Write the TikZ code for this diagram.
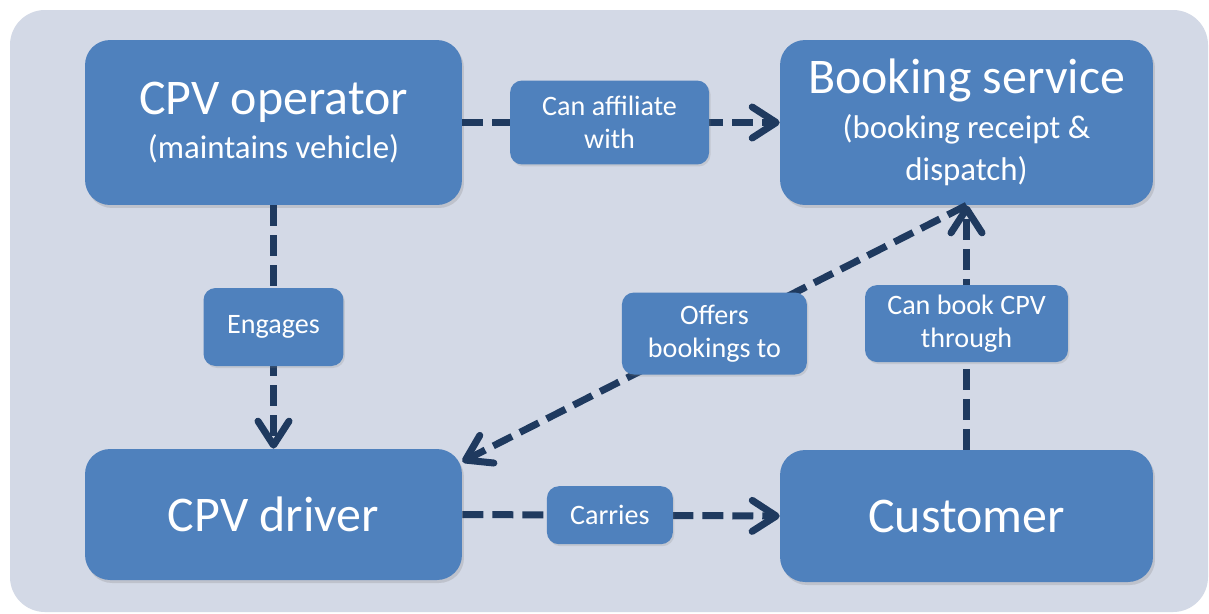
\documentclass[tikz,border=0pt]{standalone}
\usepackage{fontspec}
\setmainfont{Carlito}
\usepackage{xcolor}
\usetikzlibrary{arrows.meta,shadows}
\definecolor{boxblue}{HTML}{4F81BD}
\definecolor{panel}{HTML}{D3D9E6}
\definecolor{linkblue}{HTML}{1F3A5F}
\newcommand{\subfnt}{\fontsize{18.7}{22}\selectfont}

\begin{document}
\begin{tikzpicture}[x=0.02cm,y=-0.02cm,
  actor/.style={rectangle,rounded corners=0.5cm,fill=boxblue,text=white,align=center,
    font=\fontsize{28.4}{24.4}\selectfont,
    drop shadow={opacity=0.25,shadow xshift=0.04cm,shadow yshift=-0.06cm}},
  tag/.style={rectangle,rounded corners=0.24cm,fill=boxblue,text=white,align=center,inner sep=0pt,
    font=\fontsize{16}{18.7}\selectfont,
    drop shadow={opacity=0.2,shadow xshift=0.03cm,shadow yshift=-0.04cm}},
  link/.style={draw=linkblue,line width=0.14cm,dash pattern=on 0.42cm off 0.18cm,
    -{Straight Barb[length=0.48cm,width=0.62cm,round]}}]
\useasboundingbox (0,0) rectangle (1209,613);
\fill[white] (0,0) rectangle (1209,613);
\fill[panel,rounded corners=0.7cm] (10,10) rectangle (1208,612);
\node[actor,minimum width=7.54cm,minimum height=3.3cm] (op) at (273.5,122.5) {CPV operator\\[1pt]{\subfnt (maintains vehicle)}};
\node[actor,minimum width=7.46cm,minimum height=3.3cm] (bs) at (966.5,122.5) {Booking service\\[1pt]{\subfnt (booking receipt \&}\\{\subfnt dispatch)}};
\node[actor,minimum width=7.54cm,minimum height=2.62cm] (drv) at (273.5,514.5) {CPV driver};
\node[actor,minimum width=7.46cm,minimum height=2.64cm] (cus) at (966.5,516) {Customer};
\draw[link] (op.east) -- node[tag,minimum width=3.98cm,minimum height=1.68cm,pos=0.464] (aff) {Can affiliate\\with} (bs.west);
\draw[link] (op.south) -- node[tag,minimum width=2.8cm,minimum height=1.56cm] (eng) {Engages} (drv.north);
\draw[link] (drv.east) -- node[tag,minimum width=2.52cm,minimum height=1.16cm,pos=0.465] (car) {Carries} (cus.west);
\draw[link] (cus.north) -- node[tag,minimum width=4.06cm,minimum height=1.54cm,pos=0.516] (thr) {Can book CPV\\through} (bs.south);
\draw[link] (bs.south) -- node[tag,minimum width=3.7cm,minimum height=1.64cm,pos=0.5] (off) {Offers\\bookings to} ([yshift=-0.26cm]drv.north east);
\end{tikzpicture}
\end{document}
